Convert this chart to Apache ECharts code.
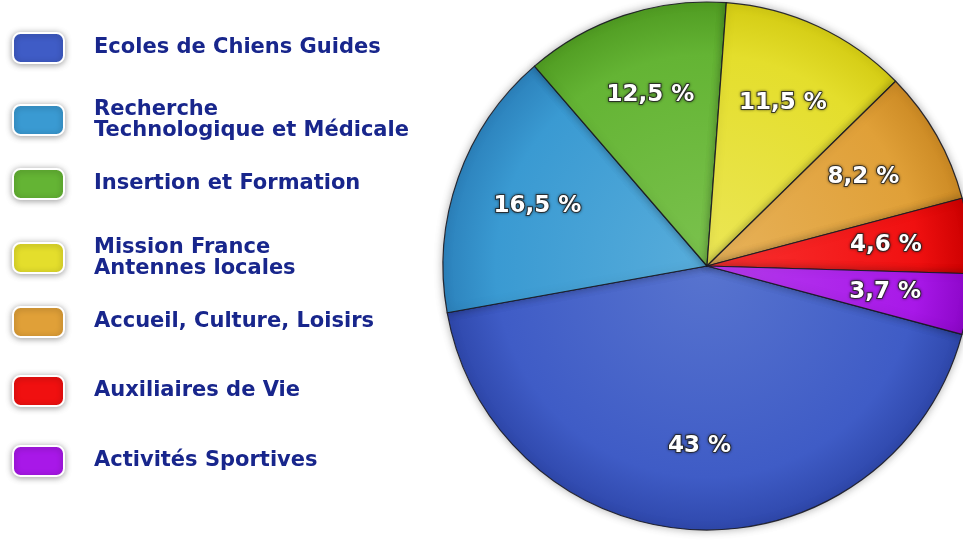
<!DOCTYPE html>
<html>
<head>
<meta charset="utf-8">
<script src="https://cdn.jsdelivr.net/npm/echarts@6/dist/echarts.min.js"></script>
<style>
html,body{margin:0;padding:0;background:#ffffff;}
#chart{width:963px;height:540px;}
</style>
</head>
<body>
<div id="chart"></div>
<script>
const categories = [
  'Ecoles de Chiens Guides',
  'Recherche\nTechnologique et Médicale',
  'Insertion et Formation',
  'Mission France\nAntennes locales',
  'Accueil, Culture, Loisirs',
  'Auxiliaires de Vie',
  'Activités Sportives'
];
const values = [43, 16.5, 12.5, 11.5, 8.2, 4.6, 3.7];
const baseColors  = ['#3f5cc6', '#3a9ad2', '#64b434', '#e4de2c', '#e0a038', '#f01010', '#a818e8'];
const lightColors = ['#5874cf', '#58addb', '#7bc24e', '#ebe656', '#e7b25a', '#fa3232', '#b63cee'];
const darkColors  = ['#2f48ac', '#2c82bc', '#509c22', '#d4cc14', '#cc8a24', '#cc0000', '#8c06c8'];

const CX = 707, CY = 266, R = 264;
const legendCenters = [47, 114, 183, 252, 321, 390, 460];

function grad(i) {
  return new echarts.graphic.RadialGradient(CX, CY, R, [
    {offset: 0, color: lightColors[i]},
    {offset: 0.8, color: baseColors[i]},
    {offset: 1, color: darkColors[i]}
  ], true);
}

const pieData = categories.map((name, i) => ({
  name: name,
  value: values[i],
  itemStyle: {color: grad(i)}
}));
const labelData = categories.map((name, i) => ({name: name, value: values[i]}));

const legends = categories.map((name, i) => ({
  orient: 'vertical',
  left: 12,
  top: legendCenters[i] - 15,
  padding: 0,
  itemWidth: 51,
  itemHeight: 30,
  icon: 'roundRect',
  selectedMode: false,
  data: [name],
  itemStyle: {
    color: baseColors[i],
    borderColor: '#ffffff',
    borderWidth: 2,
    shadowBlur: 6,
    shadowColor: 'rgba(0,0,0,0.35)',
    shadowOffsetY: 1
  },
  textStyle: {
    color: '#18268c',
    fontFamily: 'DejaVu Sans',
    fontWeight: 'bold',
    fontSize: 21,
    lineHeight: 21,
    padding: [0, 0, 0, 25]
  }
}));

const chart = echarts.init(document.getElementById('chart'), null, {renderer: 'canvas'});
chart.setOption({
  backgroundColor: '#ffffff',
  animation: false,
  legend: legends,
  series: [
    {
      type: 'pie',
      center: [CX, CY],
      radius: [0, R],
      startAngle: -15,
      clockwise: true,
      data: pieData,
      label: {show: false},
      labelLine: {show: false},
      itemStyle: {
        borderColor: 'rgba(25,25,35,0.9)',
        borderWidth: 1.2,
        shadowBlur: 8,
        shadowColor: 'rgba(0,0,0,0.3)'
      },
      emphasis: {disabled: true}
    },
    {
      type: 'pie',
      center: [CX, CY],
      radius: [Math.round(R * 0.34), R],
      startAngle: -15,
      clockwise: true,
      silent: true,
      data: labelData,
      itemStyle: {color: 'rgba(0,0,0,0)', borderWidth: 0},
      labelLine: {show: false},
      label: {
        show: true,
        position: 'inside',
        formatter: p => String(p.value).replace('.', ',') + ' %',
        color: '#ffffff',
        fontFamily: 'DejaVu Sans',
        fontWeight: 'bold',
        fontSize: 23,
        textBorderColor: 'rgba(45,45,45,0.85)',
        textBorderWidth: 2,
        textShadowColor: 'rgba(0,0,0,0.5)',
        textShadowBlur: 3
      },
      emphasis: {disabled: true}
    }
  ]
});
</script>
</body>
</html>
